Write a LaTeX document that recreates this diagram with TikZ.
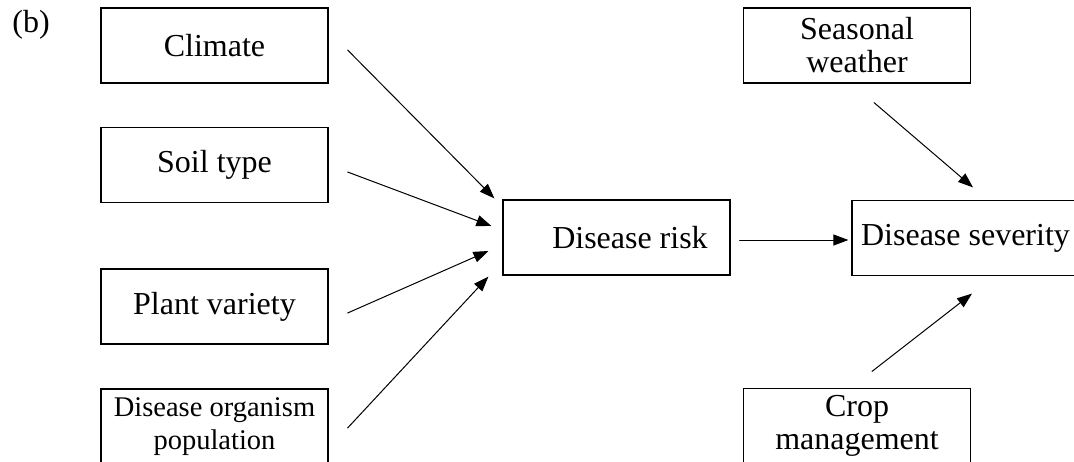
\documentclass[tikz,border=0pt]{standalone}
\usepackage{fontspec}
\setmainfont{Liberation Serif}
\usetikzlibrary{calc, arrows.meta}

\begin{document}
\begin{tikzpicture}[x=0.5pt, y=-0.5pt, line cap=round,
    box/.style={draw, rectangle, line width=0.6pt, minimum width=113.5pt, minimum height=37.5pt,
        inner sep=0pt, align=center, font=\fontsize{16}{16.5}\selectfont},
    arrow/.style={-{Triangle[length=7.5pt, width=5.5pt]}, line width=0.5pt}]
        %cornice
        \useasboundingbox (0,0) rectangle (1074,461);
        \clip (0,0) rectangle (1074,461);
        \node[anchor=base west, inner sep=0pt, font=\fontsize{16}{16.5}\selectfont] (label) at (12,32) {(b)};

        %fattori a sinistra
        \node[box] (climate) at (214.5,45.5) {Climate};
        \node[box] (soil) at (214.5,165) {Soil type};
        \node[box] (variety) at (214.5,306.5) {Plant variety};
        \node[box, font=\fontsize{14.25}{16.5}\selectfont] (organism) at (214.5,426.5) {Disease organism\\population};

        %rischio e gravita
        \node[box] (risk) at (616.5,237.5) {\hspace*{13.5pt}Disease risk};
        \node[box] (severity) at (965.5,238) {Disease severity};

        %fattori a destra
        \node[box] (weather) at (857,45.5) {Seasonal\\weather};
        \node[box] (management) at (857,426) {Crop\\management};

        %frecce verso il rischio
        \draw[arrow] ($(climate.east)+(19,4.5)$) -- ($(risk.north west)+(-8,-1)$);
        \draw[arrow] ($(soil.east)+(19,7)$) -- ($(risk.west)+(-11,-11.5)$);
        \draw[arrow] ($(variety.east)+(19,6.5)$) -- ($(risk.west)+(-14,13.5)$);
        \draw[arrow] ($(organism.east)+(19,1.5)$) -- ($(risk.south west)+(-14,1)$);

        %frecce verso la gravita
        \draw[arrow] ($(risk.east)+(9,2.5)$) -- ($(severity.west)+(-3,2)$);
        \draw[arrow] ($(weather.south)+(17,19)$) -- ($(severity.north)+(7.5,-12.5)$);
        \draw[arrow] ($(management.north)+(15,-16.5)$) -- ($(severity.south)+(6.5,17.5)$);
\end{tikzpicture}
\end{document}
